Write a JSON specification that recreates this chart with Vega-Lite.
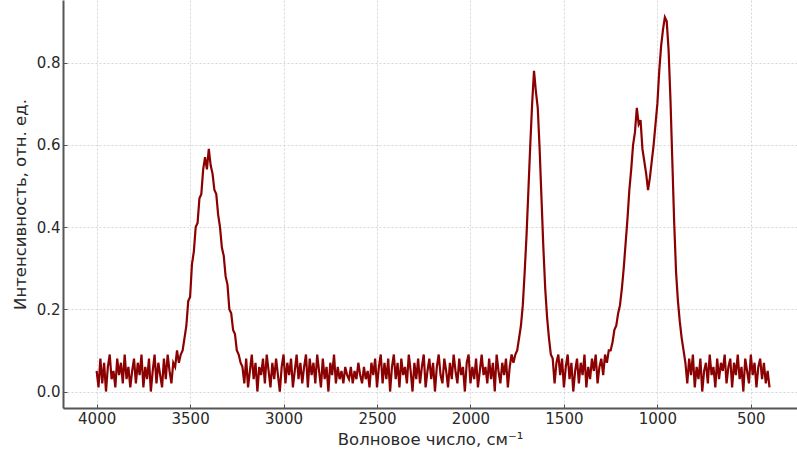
{
  "$schema": "https://vega.github.io/schema/vega-lite/v6.json",
  "width": 734,
  "height": 408,
  "autosize": {"type": "none"},
  "padding": {"left": 63, "top": 0, "right": 0, "bottom": 51},
  "background": "white",
  "config": {
    "view": {"stroke": null},
    "font": "DejaVu Sans",
    "axis": {
      "labelFont": "DejaVu Sans",
      "titleFont": "DejaVu Sans",
      "labelFontSize": 15,
      "titleFontSize": 16.5,
      "labelColor": "#2a2a2a",
      "titleColor": "#2a2a2a",
      "titleFontWeight": "normal",
      "domainColor": "#555",
      "domainWidth": 2,
      "tickColor": "#555",
      "tickSize": -4,
      "tickWidth": 1,
      "gridColor": "#cccccc",
      "gridDash": [2, 2],
      "gridWidth": 0.8
    }
  },
  "data": {
    "values": [
      {"wn":4000,"i":0.05},{"wn":3990,"i":0.01},{"wn":3980,"i":0.08},{"wn":3970,"i":0.02},{"wn":3960,"i":0.07},{"wn":3950,"i":0.00},{"wn":3940,"i":0.06},{"wn":3930,"i":0.09},{"wn":3920,"i":0.03},{"wn":3910,"i":0.05},
      {"wn":3900,"i":0.01},{"wn":3890,"i":0.08},{"wn":3880,"i":0.04},{"wn":3870,"i":0.07},{"wn":3860,"i":0.02},{"wn":3850,"i":0.09},{"wn":3840,"i":0.03},{"wn":3830,"i":0.06},{"wn":3820,"i":0.01},{"wn":3810,"i":0.05},
      {"wn":3800,"i":0.08},{"wn":3790,"i":0.02},{"wn":3780,"i":0.07},{"wn":3770,"i":0.04},{"wn":3760,"i":0.09},{"wn":3750,"i":0.01},{"wn":3740,"i":0.06},{"wn":3730,"i":0.03},{"wn":3720,"i":0.08},{"wn":3710,"i":0.00},
      {"wn":3700,"i":0.05},{"wn":3690,"i":0.09},{"wn":3680,"i":0.02},{"wn":3670,"i":0.07},{"wn":3660,"i":0.04},{"wn":3650,"i":0.01},{"wn":3640,"i":0.08},{"wn":3630,"i":0.03},{"wn":3620,"i":0.09},{"wn":3610,"i":0.05},
      {"wn":3600,"i":0.02},{"wn":3590,"i":0.07},{"wn":3580,"i":0.06},{"wn":3570,"i":0.10},{"wn":3560,"i":0.07},
      {"wn":3550,"i":0.09},{"wn":3540,"i":0.10},{"wn":3530,"i":0.13},{"wn":3520,"i":0.16},{"wn":3510,"i":0.22},{"wn":3500,"i":0.23},{"wn":3490,"i":0.31},{"wn":3480,"i":0.34},{"wn":3470,"i":0.40},{"wn":3460,"i":0.41},
      {"wn":3450,"i":0.47},{"wn":3440,"i":0.48},{"wn":3430,"i":0.54},{"wn":3420,"i":0.57},{"wn":3410,"i":0.54},{"wn":3400,"i":0.59},{"wn":3390,"i":0.55},{"wn":3380,"i":0.53},{"wn":3370,"i":0.49},{"wn":3360,"i":0.48},
      {"wn":3350,"i":0.43},{"wn":3340,"i":0.40},{"wn":3330,"i":0.35},{"wn":3320,"i":0.33},{"wn":3310,"i":0.28},{"wn":3300,"i":0.26},{"wn":3290,"i":0.20},{"wn":3280,"i":0.19},{"wn":3270,"i":0.15},{"wn":3260,"i":0.14},
      {"wn":3250,"i":0.10},{"wn":3240,"i":0.09},{"wn":3230,"i":0.07},
      {"wn":3220,"i":0.06},{"wn":3210,"i":0.02},{"wn":3200,"i":0.08},{"wn":3190,"i":0.01},{"wn":3180,"i":0.05},{"wn":3170,"i":0.09},{"wn":3160,"i":0.03},{"wn":3150,"i":0.07},{"wn":3140,"i":0.00},{"wn":3130,"i":0.06},
      {"wn":3120,"i":0.04},{"wn":3110,"i":0.08},{"wn":3100,"i":0.02},{"wn":3090,"i":0.09},{"wn":3080,"i":0.05},{"wn":3070,"i":0.01},{"wn":3060,"i":0.07},{"wn":3050,"i":0.03},{"wn":3040,"i":0.08},{"wn":3030,"i":0.04},
      {"wn":3020,"i":0.00},{"wn":3010,"i":0.06},{"wn":3000,"i":0.09},{"wn":2990,"i":0.02},{"wn":2980,"i":0.07},{"wn":2970,"i":0.04},{"wn":2960,"i":0.08},{"wn":2950,"i":0.01},{"wn":2940,"i":0.05},{"wn":2930,"i":0.09},
      {"wn":2920,"i":0.03},{"wn":2910,"i":0.07},{"wn":2900,"i":0.02},{"wn":2890,"i":0.06},{"wn":2880,"i":0.09},{"wn":2870,"i":0.01},{"wn":2860,"i":0.08},{"wn":2850,"i":0.04},{"wn":2840,"i":0.07},{"wn":2830,"i":0.02},
      {"wn":2820,"i":0.09},{"wn":2810,"i":0.05},{"wn":2800,"i":0.01},{"wn":2790,"i":0.08},{"wn":2780,"i":0.03},{"wn":2770,"i":0.06},{"wn":2760,"i":0.00},{"wn":2750,"i":0.07},{"wn":2740,"i":0.04},{"wn":2730,"i":0.09},
      {"wn":2720,"i":0.02},{"wn":2710,"i":0.06},{"wn":2700,"i":0.03},{"wn":2690,"i":0.05},{"wn":2680,"i":0.02},{"wn":2670,"i":0.06},{"wn":2660,"i":0.04},{"wn":2650,"i":0.03},{"wn":2640,"i":0.06},{"wn":2630,"i":0.02},
      {"wn":2620,"i":0.05},{"wn":2610,"i":0.03},{"wn":2600,"i":0.07},{"wn":2590,"i":0.04},{"wn":2580,"i":0.02},{"wn":2570,"i":0.06},{"wn":2560,"i":0.03},{"wn":2550,"i":0.05},{"wn":2540,"i":0.01},{"wn":2530,"i":0.07},
      {"wn":2520,"i":0.04},{"wn":2510,"i":0.08},{"wn":2500,"i":0.01},{"wn":2490,"i":0.06},{"wn":2480,"i":0.09},{"wn":2470,"i":0.02},{"wn":2460,"i":0.07},{"wn":2450,"i":0.03},{"wn":2440,"i":0.08},{"wn":2430,"i":0.00},
      {"wn":2420,"i":0.06},{"wn":2410,"i":0.09},{"wn":2400,"i":0.03},{"wn":2390,"i":0.07},{"wn":2380,"i":0.01},{"wn":2370,"i":0.08},{"wn":2360,"i":0.04},{"wn":2350,"i":0.06},{"wn":2340,"i":0.02},{"wn":2330,"i":0.09},
      {"wn":2320,"i":0.05},{"wn":2310,"i":0.00},{"wn":2300,"i":0.07},{"wn":2290,"i":0.03},{"wn":2280,"i":0.08},{"wn":2270,"i":0.02},{"wn":2260,"i":0.06},{"wn":2250,"i":0.09},{"wn":2240,"i":0.01},{"wn":2230,"i":0.05},
      {"wn":2220,"i":0.08},{"wn":2210,"i":0.03},{"wn":2200,"i":0.07},{"wn":2190,"i":0.00},{"wn":2180,"i":0.06},{"wn":2170,"i":0.09},{"wn":2160,"i":0.04},{"wn":2150,"i":0.02},{"wn":2140,"i":0.08},{"wn":2130,"i":0.05},
      {"wn":2120,"i":0.01},{"wn":2110,"i":0.07},{"wn":2100,"i":0.03},{"wn":2090,"i":0.09},{"wn":2080,"i":0.05},{"wn":2070,"i":0.02},{"wn":2060,"i":0.08},{"wn":2050,"i":0.04},{"wn":2040,"i":0.06},{"wn":2030,"i":0.00},
      {"wn":2020,"i":0.07},{"wn":2010,"i":0.09},{"wn":2000,"i":0.02},{"wn":1990,"i":0.06},{"wn":1980,"i":0.03},{"wn":1970,"i":0.08},{"wn":1960,"i":0.01},{"wn":1950,"i":0.05},{"wn":1940,"i":0.09},{"wn":1930,"i":0.04},
      {"wn":1920,"i":0.06},{"wn":1910,"i":0.02},{"wn":1900,"i":0.08},{"wn":1890,"i":0.03},{"wn":1880,"i":0.07},{"wn":1870,"i":0.00},{"wn":1860,"i":0.09},{"wn":1850,"i":0.05},{"wn":1840,"i":0.02},{"wn":1830,"i":0.07},
      {"wn":1820,"i":0.04},{"wn":1810,"i":0.08},{"wn":1800,"i":0.01},{"wn":1790,"i":0.06},{"wn":1780,"i":0.09},
      {"wn":1770,"i":0.07},{"wn":1760,"i":0.09},{"wn":1750,"i":0.10},{"wn":1740,"i":0.13},{"wn":1730,"i":0.16},{"wn":1720,"i":0.21},{"wn":1710,"i":0.29},{"wn":1700,"i":0.38},{"wn":1690,"i":0.49},{"wn":1680,"i":0.60},
      {"wn":1670,"i":0.70},{"wn":1660,"i":0.78},{"wn":1650,"i":0.73},{"wn":1640,"i":0.69},{"wn":1630,"i":0.59},{"wn":1620,"i":0.47},{"wn":1610,"i":0.35},{"wn":1600,"i":0.25},{"wn":1590,"i":0.18},{"wn":1580,"i":0.13},
      {"wn":1570,"i":0.09},{"wn":1560,"i":0.08},
      {"wn":1550,"i":0.02},{"wn":1540,"i":0.07},{"wn":1530,"i":0.09},{"wn":1520,"i":0.04},{"wn":1510,"i":0.08},{"wn":1500,"i":0.01},{"wn":1490,"i":0.06},{"wn":1480,"i":0.09},{"wn":1470,"i":0.03},{"wn":1460,"i":0.07},
      {"wn":1450,"i":0.00},{"wn":1440,"i":0.05},{"wn":1430,"i":0.08},{"wn":1420,"i":0.02},{"wn":1410,"i":0.07},{"wn":1400,"i":0.04},{"wn":1390,"i":0.09},{"wn":1380,"i":0.01},{"wn":1370,"i":0.06},{"wn":1360,"i":0.03},
      {"wn":1350,"i":0.08},{"wn":1340,"i":0.05},{"wn":1330,"i":0.09},{"wn":1320,"i":0.02},{"wn":1310,"i":0.06},{"wn":1300,"i":0.08},{"wn":1290,"i":0.04},{"wn":1280,"i":0.09},{"wn":1270,"i":0.07},{"wn":1260,"i":0.10},
      {"wn":1250,"i":0.10},{"wn":1240,"i":0.12},{"wn":1230,"i":0.15},{"wn":1220,"i":0.16},{"wn":1210,"i":0.19},{"wn":1200,"i":0.21},{"wn":1190,"i":0.25},{"wn":1180,"i":0.30},{"wn":1170,"i":0.36},{"wn":1160,"i":0.42},
      {"wn":1150,"i":0.49},{"wn":1140,"i":0.54},{"wn":1130,"i":0.60},{"wn":1120,"i":0.63},{"wn":1110,"i":0.69},{"wn":1100,"i":0.65},{"wn":1090,"i":0.66},{"wn":1080,"i":0.59},{"wn":1070,"i":0.56},{"wn":1060,"i":0.53},
      {"wn":1050,"i":0.49},{"wn":1040,"i":0.52},{"wn":1030,"i":0.56},{"wn":1020,"i":0.60},{"wn":1010,"i":0.65},{"wn":1000,"i":0.70},{"wn":990,"i":0.78},{"wn":980,"i":0.84},{"wn":970,"i":0.88},{"wn":960,"i":0.91},
      {"wn":950,"i":0.90},{"wn":940,"i":0.83},{"wn":930,"i":0.71},{"wn":920,"i":0.56},{"wn":910,"i":0.41},{"wn":900,"i":0.29},{"wn":890,"i":0.22},{"wn":880,"i":0.17},{"wn":870,"i":0.13},{"wn":860,"i":0.10},
      {"wn":850,"i":0.07},
      {"wn":840,"i":0.02},{"wn":830,"i":0.08},{"wn":820,"i":0.04},{"wn":810,"i":0.09},{"wn":800,"i":0.01},{"wn":790,"i":0.06},{"wn":780,"i":0.03},{"wn":770,"i":0.08},{"wn":760,"i":0.00},{"wn":750,"i":0.05},
      {"wn":740,"i":0.07},{"wn":730,"i":0.02},{"wn":720,"i":0.09},{"wn":710,"i":0.04},{"wn":700,"i":0.06},{"wn":690,"i":0.01},{"wn":680,"i":0.08},{"wn":670,"i":0.03},{"wn":660,"i":0.07},{"wn":650,"i":0.05},
      {"wn":640,"i":0.09},{"wn":630,"i":0.02},{"wn":620,"i":0.06},{"wn":610,"i":0.08},{"wn":600,"i":0.01},{"wn":590,"i":0.07},{"wn":580,"i":0.04},{"wn":570,"i":0.09},{"wn":560,"i":0.03},{"wn":550,"i":0.06},
      {"wn":540,"i":0.00},{"wn":530,"i":0.08},{"wn":520,"i":0.05},{"wn":510,"i":0.02},{"wn":500,"i":0.09},{"wn":490,"i":0.04},{"wn":480,"i":0.07},{"wn":470,"i":0.01},{"wn":460,"i":0.06},{"wn":450,"i":0.08},
      {"wn":440,"i":0.03},{"wn":430,"i":0.07},{"wn":420,"i":0.02},{"wn":410,"i":0.05},{"wn":400,"i":0.01}
    ]
  },
  "mark": {"type": "line", "color": "#8b0000", "strokeWidth": 2.2, "clip": true},
  "encoding": {
    "x": {
      "field": "wn",
      "type": "quantitative",
      "scale": {"domain": [253, 4180], "reverse": true, "nice": false, "zero": false},
      "axis": {
        "title": "Волновое число, см⁻¹",
        "values": [4000, 3500, 3000, 2500, 2000, 1500, 1000, 500],
        "format": "d",
        "labelPadding": 7,
        "titlePadding": 5,
        "grid": true
      }
    },
    "y": {
      "field": "i",
      "type": "quantitative",
      "scale": {"domain": [-0.04, 0.952], "nice": false, "zero": false},
      "axis": {
        "title": "Интенсивность, отн. ед.",
        "values": [0, 0.2, 0.4, 0.6, 0.8],
        "format": ".1f",
        "labelPadding": 7,
        "titlePadding": 8,
        "grid": true
      }
    }
  }
}
